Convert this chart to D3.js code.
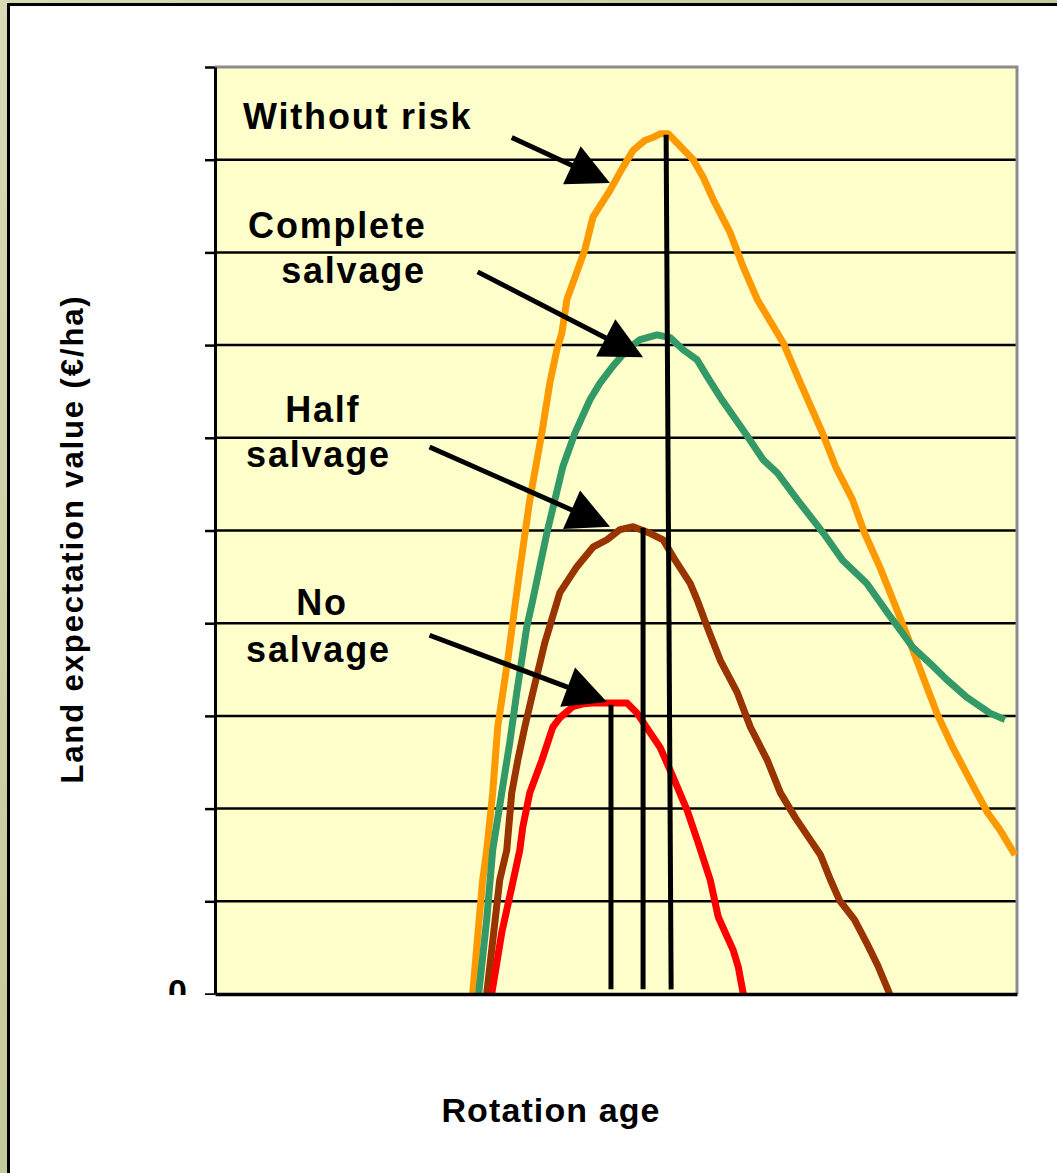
<!DOCTYPE html>
<html lang="en">
<head>
  <meta charset="UTF-8">
  <title>Land expectation value vs rotation age</title>
  <script src="https://d3js.org/d3.v7.min.js"></script>
  <style>
    body {
      margin: 0;
      background: #cfd2a6;
    }
    svg {
      display: block;
    }
    text {
      font-family: "Liberation Sans", Arial, sans-serif;
      font-weight: bold;
      fill: #000;
    }
  </style>
</head>
<body>
<svg width="1057" height="1173"></svg>

<script>
  // rotation age (x) and land expectation value (y, grid units)
  const ageWithoutRisk = [25.7, 26.7, 27.1, 27.7, 28.2, 29.2, 30.1, 30.4, 31.4, 32.6, 33.4, 34.1, 34.6, 35.1, 36.9, 37.7, 39.4, 40.7, 41.7, 42.9, 43.7, 44.4, 45.2, 46.1, 47.7, 48.7, 49.7, 51.4, 52.7, 54.1, 56.7, 58.4, 60.6, 61.9, 63.6, 64.8, 66.3, 68.3, 69.5, 72.0, 73.6, 75.3, 77.1, 78.3, 79.8];
  const levWithoutRisk = [0, 1.23, 1.55, 2.17, 2.88, 3.60, 4.33, 4.57, 5.33, 6.05, 6.59, 6.95, 7.13, 7.49, 8.03, 8.38, 8.67, 8.92, 9.10, 9.21, 9.24, 9.28, 9.28, 9.18, 9.00, 8.81, 8.57, 8.21, 7.84, 7.49, 7.02, 6.59, 6.05, 5.69, 5.33, 4.97, 4.61, 4.07, 3.74, 3.03, 2.66, 2.31, 1.95, 1.77, 1.50];

  const ageComplete = [26.3, 27.1, 27.7, 28.6, 29.4, 30.1, 31.1, 31.7, 32.4, 33.1, 34.7, 35.9, 37.4, 38.4, 39.6, 41.1, 42.4, 44.1, 45.4, 46.7, 48.1, 49.1, 50.5, 52.9, 54.7, 56.1, 58.1, 60.7, 62.6, 65.0, 67.1, 69.6, 71.3, 73.0, 75.0, 77.3, 78.8];
  const levComplete = [0, 0.80, 1.55, 2.17, 2.71, 3.25, 3.96, 4.25, 4.61, 4.97, 5.69, 6.05, 6.41, 6.59, 6.76, 6.95, 7.06, 7.11, 7.08, 6.95, 6.84, 6.66, 6.42, 6.05, 5.76, 5.62, 5.33, 4.97, 4.68, 4.43, 4.11, 3.74, 3.57, 3.39, 3.20, 3.03, 2.96];

  const ageHalf = [27.1, 28.4, 29.1, 29.6, 30.2, 30.9, 31.7, 32.9, 34.4, 36.1, 37.7, 39.1, 40.4, 41.7, 43.4, 44.7, 45.9, 47.4, 48.1, 49.1, 50.4, 52.1, 53.4, 55.1, 56.4, 57.9, 59.4, 60.4, 61.4, 62.3, 63.8, 65.1, 66.1, 67.3];
  const levHalf = [0, 1.23, 1.55, 2.17, 2.52, 2.88, 3.25, 3.79, 4.33, 4.61, 4.82, 4.90, 5.01, 5.04, 4.97, 4.90, 4.68, 4.43, 4.25, 3.96, 3.60, 3.25, 2.88, 2.52, 2.17, 1.90, 1.66, 1.50, 1.23, 1.01, 0.80, 0.53, 0.31, 0];

  const ageNone = [27.6, 28.6, 29.7, 30.4, 30.7, 31.4, 32.6, 33.7, 34.4, 35.7, 36.7, 37.7, 41.1, 42.1, 43.4, 44.4, 45.7, 47.1, 48.2, 49.4, 50.2, 51.7, 52.2, 52.7];
  const levNone = [0, 0.66, 1.20, 1.55, 1.80, 2.17, 2.52, 2.88, 2.98, 3.10, 3.13, 3.14, 3.14, 3.03, 2.82, 2.66, 2.34, 1.98, 1.63, 1.23, 0.83, 0.47, 0.29, 0];

  const seriesNames = ["Without risk", "Complete salvage", "Half salvage", "No salvage"];
  const seriesColors = ["#ff9900", "#339966", "#993300", "#ff0000"];
  const yTicks = [0, 1, 2, 3, 4, 5, 6, 7, 8, 9, 10];

  // optimum rotation markers (vertical drop lines)
  const optAgeTop = [45.0, 42.7, 39.5];
  const optAgeBase = [45.5, 42.7, 39.5];
  const optLev = [9.27, 5.03, 3.12];

  // annotation arrows: [age, value] start and tip
  const arrowFrom = [[29.6, 9.24], [26.2, 7.79], [21.4, 5.90], [21.4, 3.87]];
  const arrowTo = [[39.4, 8.75], [42.7, 6.87], [39.4, 5.04], [39.1, 3.15]];

  // label lines: text, left age, baseline value
  const labelText = ["Without risk", "Complete", "salvage", "Half", "salvage", "No", "salvage"];
  const labelAge = [2.8, 3.3, 6.6, 7.0, 3.1, 8.1, 3.1];
  const labelLev = [9.33, 8.16, 7.67, 6.17, 5.69, 4.09, 3.58];

  const series = [
    { age: ageWithoutRisk, lev: levWithoutRisk },
    { age: ageComplete, lev: levComplete },
    { age: ageHalf, lev: levHalf },
    { age: ageNone, lev: levNone }
  ].map((s, i) => ({
    name: seriesNames[i],
    color: seriesColors[i],
    points: s.age.map((a, j) => ({ age: a, lev: s.lev[j] }))
  }));

  const svg = d3.select("svg");
  const W = 1057, H = 1173;
  const plot = { left: 215, right: 1017, top: 67, bottom: 994 };

  const x = d3.scaleLinear().domain([0, 80]).range([plot.left, plot.right]);
  const y = d3.scaleLinear().domain([0, 10]).range([plot.bottom, plot.top]);

  // outer backdrop and white slide panel
  const bg = svg.append("defs").append("linearGradient")
    .attr("id", "bg").attr("x1", 0).attr("y1", 0).attr("x2", 1).attr("y2", 1);
  bg.append("stop").attr("offset", "0%").attr("stop-color", "#d9dab4");
  bg.append("stop").attr("offset", "50%").attr("stop-color", "#c4c99a");
  bg.append("stop").attr("offset", "100%").attr("stop-color", "#d7d8ae");
  svg.append("rect").attr("width", W).attr("height", H).attr("fill", "url(#bg)");

  svg.append("rect")
    .attr("x", 8.5).attr("y", 4.5)
    .attr("width", W + 20).attr("height", H + 20)
    .attr("fill", "#fff")
    .attr("stroke", "#000")
    .attr("stroke-width", 3);

  svg.append("rect")
    .attr("x", plot.left).attr("y", plot.top)
    .attr("width", plot.right - plot.left).attr("height", plot.bottom - plot.top)
    .attr("fill", "#ffffcc");

  // gridlines
  svg.append("g")
    .selectAll("line")
    .data(yTicks.filter(t => t > 0 && t < 10))
    .join("line")
    .attr("x1", plot.left).attr("x2", plot.right)
    .attr("y1", d => y(d)).attr("y2", d => y(d))
    .attr("stroke", "#000")
    .attr("stroke-width", 2.5);

  // grey top and right border of plot area
  svg.append("path")
    .attr("d", `M${plot.left},${y(10)}H${plot.right}V${plot.bottom}`)
    .attr("fill", "none")
    .attr("stroke", "#8c8c8c")
    .attr("stroke-width", 3);

  // curves
  const line = d3.line().x(d => x(d.age)).y(d => y(d.lev));
  svg.append("g")
    .selectAll("path")
    .data(series)
    .join("path")
    .attr("d", d => line(d.points))
    .attr("fill", "none")
    .attr("stroke", d => d.color)
    .attr("stroke-width", 7)
    .attr("stroke-linejoin", "round");

  // optimum drop lines
  svg.append("g")
    .selectAll("line")
    .data(optLev.map((v, i) => ({ top: optAgeTop[i], base: optAgeBase[i], lev: v })))
    .join("line")
    .attr("x1", d => x(d.top)).attr("y1", d => y(d.lev))
    .attr("x2", d => x(d.base)).attr("y2", y(0.05))
    .attr("stroke", "#000")
    .attr("stroke-width", 5);

  // y axis (only the 0 label, cut off at the axis line as in the original)
  svg.append("clipPath").attr("id", "axclip")
    .append("rect").attr("x", -plot.left).attr("y", 0).attr("width", W).attr("height", plot.bottom + 1);

  const yAxis = svg.append("g")
    .attr("transform", `translate(${plot.left},0)`)
    .attr("clip-path", "url(#axclip)")
    .call(d3.axisLeft(y).tickValues(yTicks).tickSize(10).tickSizeOuter(0).tickPadding(18)
      .tickFormat(d => d === 0 ? "0" : ""));
  yAxis.select(".domain").attr("stroke", "#000").attr("stroke-width", 3);
  yAxis.selectAll(".tick line").attr("stroke", "#000").attr("stroke-width", 2.5);
  yAxis.selectAll(".tick text")
    .style("font-family", "'Liberation Sans', Arial, sans-serif")
    .style("font-weight", "bold")
    .style("font-size", "34px")
    .attr("dy", "0.25em")
    .attr("fill", "#000");

  // x axis line, no ticks
  const xAxis = svg.append("g")
    .attr("transform", `translate(0,${plot.bottom})`)
    .call(d3.axisBottom(x).tickValues([]).tickSizeOuter(0));
  xAxis.select(".domain").attr("stroke", "#000").attr("stroke-width", 3.5);

  // annotation arrows
  const head = 42, half = 21;
  const arrows = svg.append("g");
  arrowFrom.forEach((f, i) => {
    const x0 = x(f[0]), y0 = y(f[1]);
    const x1 = x(arrowTo[i][0]), y1 = y(arrowTo[i][1]);
    const len = Math.hypot(x1 - x0, y1 - y0);
    const ux = (x1 - x0) / len, uy = (y1 - y0) / len;
    const bx = x1 - ux * head, by = y1 - uy * head;
    arrows.append("line")
      .attr("x1", x0).attr("y1", y0)
      .attr("x2", bx + ux * 4).attr("y2", by + uy * 4)
      .attr("stroke", "#000")
      .attr("stroke-width", 5);
    arrows.append("path")
      .attr("d", `M${x1},${y1}L${bx - uy * half},${by + ux * half}L${bx + uy * half},${by - ux * half}Z`)
      .attr("fill", "#000");
  });

  // series labels
  svg.append("g")
    .selectAll("text")
    .data(labelText)
    .join("text")
    .attr("x", (d, i) => x(labelAge[i]))
    .attr("y", (d, i) => y(labelLev[i]))
    .style("font-size", "36px")
    .style("letter-spacing", "1.8px")
    .text(d => d);

  // axis titles
  svg.append("text")
    .attr("transform", "translate(83,539) rotate(-90)")
    .attr("text-anchor", "middle")
    .style("font-size", "31px")
    .style("letter-spacing", "1.9px")
    .text("Land expectation value (€/ha)");

  svg.append("text")
    .attr("x", 551)
    .attr("y", 1122)
    .attr("text-anchor", "middle")
    .style("font-size", "34px")
    .style("letter-spacing", "1.1px")
    .text("Rotation age");
</script>
</body>
</html>
